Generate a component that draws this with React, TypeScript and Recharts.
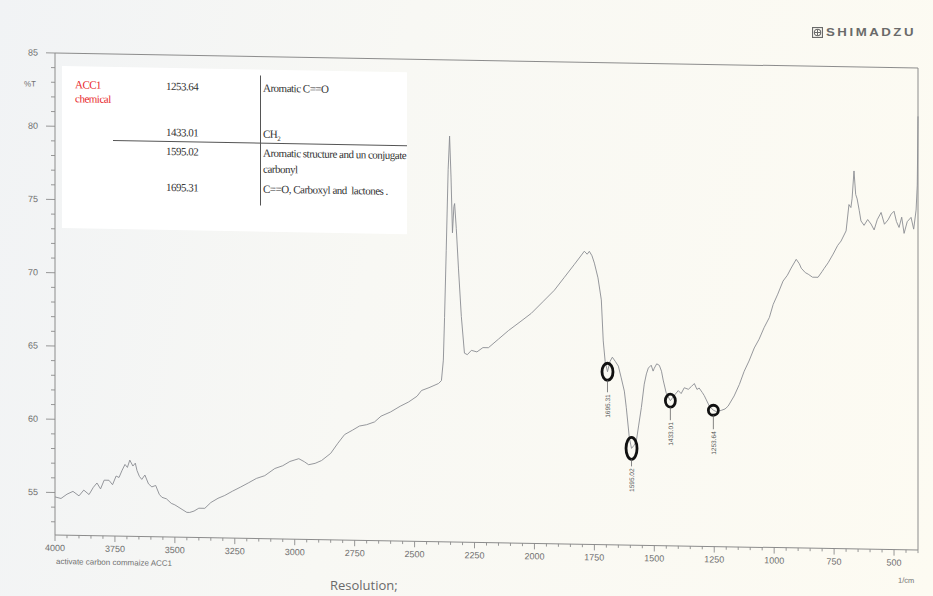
import { LineChart, Line, XAxis, YAxis, ReferenceLine } from 'recharts'

// FTIR spectrum, activated carbon sample ACC1
const wavenumbers = [
  4000, 3975, 3950, 3925, 3900, 3880, 3858, 3840, 3825, 3810, 3795, 3775, 3760, 3745, 3733, 3720,
  3708, 3698, 3688, 3675, 3665, 3658, 3648, 3638, 3625, 3610, 3596, 3580, 3565, 3554, 3535, 3515,
  3500, 3470, 3450, 3438, 3420, 3400, 3375, 3350, 3320, 3292, 3260, 3225, 3192, 3160, 3125, 3083,
  3050, 3020, 2983, 2960, 2942, 2915, 2888, 2850, 2820, 2792, 2760, 2730, 2700, 2667, 2640, 2600,
  2560, 2525, 2490, 2471, 2440, 2400, 2388, 2380, 2375, 2368, 2360, 2354, 2348, 2342, 2336, 2333,
  2326, 2317, 2305, 2292, 2280, 2263, 2240, 2215, 2192, 2150, 2108, 2060, 2013, 1965, 1917, 1875,
  1833, 1810, 1792, 1780, 1771, 1760, 1750, 1735, 1721, 1713, 1705, 1695.31, 1685, 1675, 1662, 1650,
  1638, 1625, 1617, 1604, 1595.02, 1585, 1575, 1565, 1554, 1542, 1533, 1525, 1513, 1505, 1500, 1490,
  1479, 1470, 1463, 1450, 1433.01, 1415, 1400, 1388, 1375, 1358, 1345, 1333, 1322, 1313, 1300, 1292,
  1271, 1253.64, 1240, 1221, 1205, 1192, 1167, 1145, 1125, 1105, 1083, 1063, 1042, 1020, 1004, 985,
  963, 945, 929, 908, 895, 887, 870, 858, 840, 817, 800, 792, 775, 754, 735, 721,
  700, 688, 680, 675, 667, 660, 654, 645, 638, 625, 610, 596, 583, 570, 554, 540,
  525, 512, 500, 490, 479, 468, 458, 445, 429, 418, 408, 403, 400,
]

const transmittance = [
  54.7, 54.6, 54.9, 55.1, 54.8, 55.2, 54.9, 55.4, 55.7, 55.3, 55.9, 55.9, 55.6, 56.2, 56.1, 56.6,
  57.0, 56.8, 57.3, 56.9, 57.1, 56.6, 56.2, 56.0, 56.3, 55.7, 55.5, 55.6, 55.0, 54.8, 54.7, 54.4,
  54.3, 54.0, 53.8, 53.8, 53.9, 54.1, 54.1, 54.5, 54.8, 55.0, 55.3, 55.6, 55.9, 56.2, 56.4, 56.9,
  57.1, 57.4, 57.6, 57.4, 57.2, 57.3, 57.5, 58.0, 58.7, 59.3, 59.6, 59.9, 60.0, 60.2, 60.6, 60.9,
  61.3, 61.6, 62.0, 62.4, 62.6, 62.9, 63.1, 64.5, 67.4, 72.0, 77.5, 79.8, 77.0, 73.2, 75.0, 75.2,
  73.5, 70.8, 67.5, 65.0, 64.9, 65.2, 65.1, 65.4, 65.4, 66.0, 66.6, 67.2, 67.8, 68.6, 69.4, 70.3,
  71.2, 71.7, 72.1, 71.9, 72.1, 71.8, 71.3, 70.3, 68.8, 66.0, 64.6, 63.9, 64.6, 64.9, 64.6, 64.3,
  63.5, 62.6, 61.5, 59.4, 58.7, 58.9, 59.2, 60.3, 61.5, 63.1, 63.8, 64.2, 64.4, 64.0, 64.2, 64.5,
  64.4, 64.0, 63.4, 62.5, 62.0, 62.4, 62.7, 62.5, 62.9, 62.8, 63.0, 63.2, 62.8, 62.9, 62.6, 62.4,
  61.7, 61.4, 61.3, 61.4, 61.5, 61.7, 62.4, 63.2, 64.1, 64.8, 65.7, 66.3, 67.1, 67.8, 68.7, 69.4,
  70.3, 70.7, 71.2, 71.8, 71.5, 71.2, 70.9, 70.8, 70.6, 70.6, 71.0, 71.2, 71.6, 72.2, 72.8, 73.1,
  73.8, 75.6, 75.4, 76.0, 77.9, 76.3, 76.0, 75.2, 74.5, 74.2, 74.6, 74.3, 73.9, 74.6, 75.1, 74.3,
  74.6, 75.0, 75.2, 74.5, 74.1, 74.8, 73.7, 74.5, 74.8, 74.0, 75.3, 77.0, 81.7,
]

const peakWavenumbers = [1695.31, 1595.02, 1433.01, 1253.64]
const peakLabels = ['1695.31', '1595.02', '1433.01', '1253.64']

const tableWavenumbers = ['1253.64', '1433.01', '1595.02', '1695.31']

const xMajorTicks = [4000, 3750, 3500, 3250, 3000, 2750, 2500, 2250, 2000, 1750, 1500, 1250, 1000, 750, 500]
const xTicks = Array.from({ length: 73 }, (_, i) => 4000 - i * 50)
const yMajorTicks = [55, 60, 65, 70, 75, 80, 85]
const yTicks = Array.from({ length: 33 }, (_, i) => 53 + i)

const data = wavenumbers.map((wn, i) => ({ wn, t: transmittance[i] }))

// ellipse radii and stem length for the circled peaks, same order as peakWavenumbers
const peakMark: [number, number, number][] = [
  [5.5, 8.5, 12],
  [5.5, 11, 7],
  [5, 6.5, 13],
  [5, 5, 14],
]

const axisGrey = '#8c8c8c'
const labelGrey = '#707070'

const XTick = (props: any) => {
  const { x, y, payload } = props
  const major = xMajorTicks.includes(payload.value)
  return (
    <g>
      <line x1={x} x2={x} y1={y} y2={y + (major ? 6 : 3)} stroke={axisGrey} strokeWidth={0.9} />
      {major && (
        <text x={x} y={y + 16} textAnchor="middle" fontSize={9} fill={labelGrey} fontFamily="Liberation Sans, Arial, sans-serif">
          {payload.value}
        </text>
      )}
    </g>
  )
}

const YTick = (props: any) => {
  const { x, y, payload } = props
  const major = yMajorTicks.includes(payload.value)
  return (
    <g>
      <line x1={x} x2={x - (major ? 9 : 4)} y1={y} y2={y} stroke={axisGrey} strokeWidth={0.9} />
      {major && (
        <text x={x - 17} y={y + 3} textAnchor="end" fontSize={9} fill={labelGrey} fontFamily="Liberation Sans, Arial, sans-serif">
          {payload.value}
        </text>
      )}
    </g>
  )
}

const renderPeak = (props: any) => {
  const { cx, cy, payload, index } = props
  const i = peakWavenumbers.indexOf(payload.wn)
  if (i < 0) return <g key={`d${index}`} />
  const [rx, ry, stem] = peakMark[i]
  const bottom = cy + ry
  return (
    <g key={`d${index}`}>
      <ellipse cx={cx} cy={cy} rx={rx} ry={ry} fill="none" stroke="#111" strokeWidth={2.8} />
      <line x1={cx} x2={cx} y1={bottom} y2={bottom + stem} stroke="#666" strokeWidth={0.8} />
      <text
        x={cx}
        y={bottom + stem + 2}
        transform={`rotate(-90 ${cx} ${bottom + stem + 2})`}
        textAnchor="end"
        dominantBaseline="central"
        fontSize={6.5}
        fill="#555"
        fontFamily="Liberation Sans, Arial, sans-serif"
      >
        {peakLabels[i]}
      </text>
    </g>
  )
}

const serif = 'Liberation Serif, Times New Roman, serif'
const cell = (left: number, top: number): React.CSSProperties => ({
  position: 'absolute',
  left,
  top,
  fontFamily: serif,
  fontSize: 11,
  letterSpacing: -0.5,
  color: '#333',
  whiteSpace: 'nowrap',
  lineHeight: '12px',
})

export default function App() {
  return (
    <div
      style={{
        position: 'fixed',
        left: 0,
        top: 0,
        width: 933,
        height: 596,
        overflow: 'hidden',
        background: 'linear-gradient(100deg, #f1f3f5 0%, #f8f8f4 40%, #fdfbf2 100%)',
      }}
    >
      <div style={{ position: 'absolute', left: 0, top: 0, transform: 'skewY(1deg)', transformOrigin: '55px 53px' }}>
        <LineChart width={933} height={596} data={data} margin={{ top: 53, right: 15, bottom: 31, left: 15 }}>
          <XAxis
            dataKey="wn"
            type="number"
            domain={[400, 4000]}
            reversed
            ticks={xTicks}
            interval={0}
            tickSize={0}
            tickMargin={0}
            tickLine={false}
            tick={<XTick />}
            height={30}
            stroke={axisGrey}
          />
          <YAxis
            type="number"
            domain={[52.1, 85]}
            ticks={yTicks}
            interval={0}
            tickSize={0}
            tickMargin={0}
            tickLine={false}
            tick={<YTick />}
            width={40}
            stroke={axisGrey}
          />
          <ReferenceLine y={85} stroke={axisGrey} strokeWidth={1} />
          <ReferenceLine x={400} stroke={axisGrey} strokeWidth={1} />
          <Line
            dataKey="t"
            type="linear"
            stroke="#8b8d92"
            strokeWidth={0.9}
            dot={renderPeak}
            activeDot={false}
            isAnimationActive={false}
          />
        </LineChart>

        <div style={{ position: 'absolute', left: 24, top: 80, fontSize: 8, color: labelGrey, fontFamily: 'Liberation Sans, Arial, sans-serif' }}>
          %T
        </div>

        {/* peak assignment table */}
        <div style={{ position: 'absolute', left: 62, top: 66, width: 345, height: 162, background: '#ffffff' }}>
          <div style={{ ...cell(13, 12), color: '#e8262b' }}>ACC1</div>
          <div style={{ ...cell(13, 26), color: '#e8262b' }}>chemical</div>
          <div style={cell(104, 12)}>{tableWavenumbers[0]}</div>
          <div style={cell(201, 12)}>Aromatic C==O</div>
          <div style={cell(104, 58)}>{tableWavenumbers[1]}</div>
          <div style={cell(201, 58)}>
            CH<sub style={{ fontSize: 7 }}>2</sub>
          </div>
          <div style={{ position: 'absolute', left: 51, top: 73, width: 294, height: 1, background: '#555' }} />
          <div style={{ position: 'absolute', left: 198, top: 6, width: 1, height: 130, background: '#555' }} />
          <div style={cell(104, 77)}>{tableWavenumbers[2]}</div>
          <div style={cell(201, 77)}>Aromatic structure and un conjugate</div>
          <div style={cell(201, 93)}>carbonyl</div>
          <div style={cell(104, 113)}>{tableWavenumbers[3]}</div>
          <div style={cell(201, 113)}>C==O, Carboxyl and&nbsp; lactones .</div>
        </div>

        <div style={{ position: 'absolute', left: 56, top: 557, fontSize: 8, lineHeight: '9px', color: labelGrey, fontFamily: 'Liberation Sans, Arial, sans-serif', whiteSpace: 'nowrap' }}>
          activate carbon commaize ACC1
        </div>
        <div style={{ position: 'absolute', left: 898, top: 561, fontSize: 7.5, color: labelGrey, fontFamily: 'Liberation Sans, Arial, sans-serif' }}>
          1/cm
        </div>
      </div>

      <div style={{ position: 'absolute', left: 330, top: 576, fontSize: 13, color: '#6a6a6a', fontFamily: 'Open Sans, sans-serif', whiteSpace: 'nowrap' }}>
        Resolution;
      </div>

      <div style={{ position: 'absolute', left: 812, top: 26, display: 'flex', alignItems: 'center', gap: 3, color: '#6a6a6a' }}>
        <svg width={11} height={11} viewBox="0 0 11 11">
          <rect x={0.5} y={0.5} width={10} height={10} fill="none" stroke="#6a6a6a" strokeWidth={1.2} />
          <circle cx={5.5} cy={5.5} r={3.2} fill="none" stroke="#6a6a6a" strokeWidth={1.1} />
          <line x1={2.3} x2={8.7} y1={5.5} y2={5.5} stroke="#6a6a6a" strokeWidth={1} />
          <line x1={5.5} x2={5.5} y1={2.3} y2={8.7} stroke="#6a6a6a" strokeWidth={1} />
        </svg>
        <span style={{ fontFamily: 'Liberation Sans, Arial, sans-serif', fontWeight: 700, fontSize: 11.5, letterSpacing: 2.2, display: 'inline-block', transform: 'scaleX(1.15)', transformOrigin: 'left center' }}>
          SHIMADZU
        </span>
      </div>
    </div>
  )
}
